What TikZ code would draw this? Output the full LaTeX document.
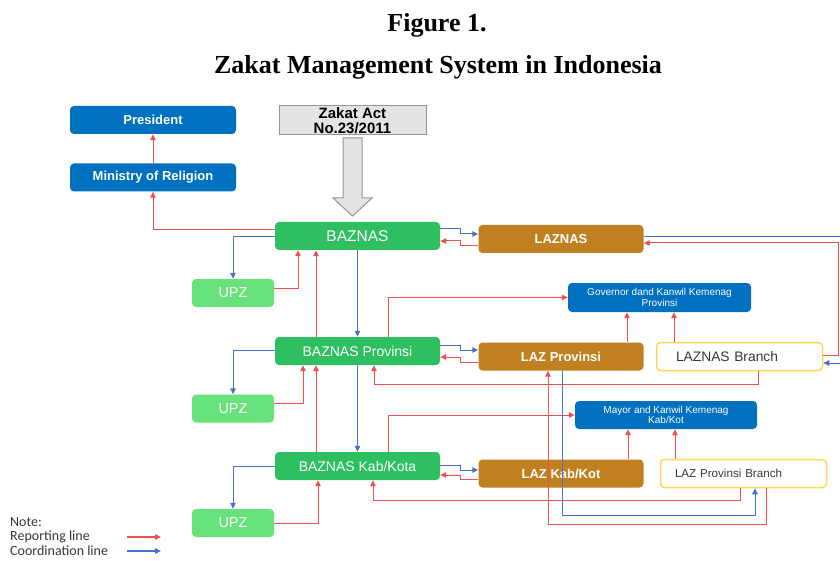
\documentclass[tikz,border=0pt]{standalone}
\usepackage{fontspec}
\setmainfont{Liberation Serif}
\setsansfont{Liberation Sans}
\newfontfamily\notefont{Carlito}
\usetikzlibrary{arrows.meta}
\definecolor{boxblue}{RGB}{0,112,192}
\definecolor{boxgreen}{RGB}{46,192,96}
\definecolor{upzgreen}{RGB}{104,226,122}
\definecolor{boxbrown}{RGB}{192,128,32}
\definecolor{boxyellow}{RGB}{255,214,90}
\definecolor{repred}{RGB}{238,80,80}
\definecolor{coordblue}{RGB}{72,114,200}
\definecolor{actgray}{RGB}{228,228,228}
\definecolor{edgegray}{RGB}{150,150,150}
\definecolor{txtgray}{RGB}{55,55,55}
\tikzset{
	box/.style={rounded corners=4pt, inner sep=0pt, align=center, minimum height=28pt},
	blubox/.style={box, fill=boxblue, text=white, font=\fontsize{13}{15}\selectfont\sffamily\bfseries},
	smallblu/.style={blubox, font=\fontsize{10}{10.5}\selectfont\sffamily},
	grnbox/.style={box, fill=boxgreen, text=white, minimum width=165pt, font=\fontsize{14}{16}\selectfont\sffamily},
	upzbox/.style={box, fill=upzgreen, text=white, minimum width=82pt, font=\fontsize{14.5}{16}\selectfont\sffamily},
	brnbox/.style={box, fill=boxbrown, text=white, minimum width=165pt, font=\fontsize{13}{15}\selectfont\sffamily\bfseries},
	ylwbox/.style={box, draw=boxyellow, line width=1.5pt, fill=white, text=txtgray, minimum width=166pt, align=left},
	rep/.style={draw=repred, line width=1pt, -{Triangle[length=6pt, width=5.5pt]}},
	coord/.style={draw=coordblue, line width=1pt, -{Triangle[length=6pt, width=5.5pt]}},
	notetxt/.style={anchor=west, inner sep=0pt, text=txtgray, font=\fontsize{14}{16}\selectfont\notefont}
}
\begin{document}
\begin{tikzpicture}[x=1pt, y=-1pt]
	\useasboundingbox (0,0) rectangle (840,561);
	\node[anchor=base, inner sep=0pt, font=\fontsize{26}{30}\selectfont\bfseries] (Fig) at (437,32) {Figure 1.};
	\node[anchor=base, inner sep=0pt, font=\fontsize{26}{30}\selectfont\bfseries] (Ttl) at (438,74) {Zakat Management System in Indonesia};

	\node[blubox, minimum width=166pt] (Pres) at (153,120) {President};
	\node[blubox, minimum width=166pt] (Min) at (153,177.5) {Ministry of Religion};
	\node[box, fill=actgray, draw=edgegray, line width=1pt, rounded corners=0pt, minimum width=147pt, minimum height=29pt, font=\fontsize{15}{14.5}\selectfont\sffamily\bfseries] (Act) at (352.5,120.5) {Zakat Act\\No.23/2011};
	\draw[fill=actgray, draw=edgegray, line width=1pt] (343,138) -- (362,138) -- (362,198) -- (372,198) -- (352.5,216) -- (333,198) -- (343,198) -- cycle;

	\node[grnbox, font=\fontsize{15.5}{17}\selectfont\sffamily] (Baz) at (357.5,236) {BAZNAS};
	\node[grnbox] (BazP) at (357.5,351) {BAZNAS Provinsi};
	\node[grnbox] (BazK) at (357.5,466) {BAZNAS Kab/Kota};
	\node[upzbox] (Upz1) at (233,293) {UPZ};
	\node[upzbox] (Upz2) at (233,408.5) {UPZ};
	\node[upzbox] (Upz3) at (233,523) {UPZ};
	\node[brnbox] (Lzn) at (561,239) {LAZNAS};
	\node[brnbox] (LazP) at (561,356.5) {LAZ Provinsi};
	\node[brnbox] (LazK) at (561,473.5) {LAZ Kab/Kot};
	\node[smallblu, minimum width=183pt, minimum height=29pt] (Gov) at (659.5,297.5) {Governor dand Kanwil Kemenag\\Provinsi};
	\node[smallblu, minimum width=182pt] (May) at (666,415) {Mayor and Kanwil Kemenag\\Kab/Kot};
	\node[ylwbox, text width=127pt, font=\fontsize{13.8}{16}\selectfont\sffamily] (LznB) at (739.5,356.5) {LAZNAS Branch};
	\node[ylwbox, text width=137pt, font=\fontsize{11.6}{14}\selectfont\sffamily] (LazPB) at (743.5,473.5) {LAZ Provinsi Branch};

	\draw[rep] (Min) -- (Pres);
	\draw[rep] (Baz.west |- 0,230) -| (Min.south);
	\draw[coord] (Baz.west |- 0,237) -| (Upz1.north);
	\draw[rep] (Upz1.east |- 0,288) -| (Baz.south -| 298,0);
	\draw[rep] (BazP.north -| 316,0) -- (Baz.south -| 316,0);
	\draw[coord] (Baz.south) -- (BazP.north);
	\draw[coord] (Baz.east |- 0,229) -| (460,234) -- (Lzn.west |- 0,234);
	\draw[rep] (Lzn.west |- 0,246) -| (460,241) -- (Baz.east |- 0,241);
	\draw[coord] (Lzn.east |- 0,237) -| (843,363) -- (LznB.east |- 0,363);
	\draw[rep] (LznB.east |- 0,355) -| (838.5,243) -- (Lzn.east |- 0,243);

	\draw[coord] (BazP.west |- 0,350) -| (Upz2.north);
	\draw[rep] (Upz2.east |- 0,403) -| (BazP.south -| 303,0);
	\draw[rep] (BazK.north -| 316,0) -- (BazP.south -| 316,0);
	\draw[coord] (BazP.south) -- (BazK.north);
	\draw[coord] (BazP.east |- 0,345) -| (460,350) -- (LazP.west |- 0,350);
	\draw[rep] (LazP.west |- 0,362) -| (460,357) -- (BazP.east |- 0,357);
	\draw[rep] (BazP.north -| 388,0) |- (Gov.west);
	\draw[rep] (LazP.north -| 627,0) -- (Gov.south -| 627,0);
	\draw[rep] (LznB.north -| 674,0) -- (Gov.south -| 674,0);
	\draw[rep] (LznB.south -| 758,0) |- (374,384.5) -- (BazP.south -| 374,0);

	\draw[coord] (BazK.west |- 0,466) -| (Upz3.north);
	\draw[rep] (Upz3.east |- 0,523) -| (BazK.south -| 318,0);
	\draw[coord] (BazK.east |- 0,465) -| (460,470) -- (LazK.west |- 0,470);
	\draw[rep] (LazK.west |- 0,479) -| (460,475) -- (BazK.east |- 0,475);
	\draw[rep] (BazK.north -| 388,0) |- (May.west);
	\draw[rep] (LazK.north -| 628,0) -- (May.south -| 628,0);
	\draw[rep] (LazPB.north -| 675,0) -- (May.south -| 675,0);
	\draw[rep] (LazPB.south -| 740,0) |- (373,500.5) -- (BazK.south -| 373,0);
	\draw[rep] (LazPB.south -| 766,0) |- (548,524) -- (LazP.south -| 548,0);
	\draw[coord] (LazP.south -| 562,0) |- (755,515) -- (LazPB.south -| 755,0);

	\node[notetxt] (Note) at (10,522) {Note:};
	\node[notetxt] (RepL) at (10,537) {Reporting line};
	\node[notetxt] (CooL) at (10,551) {Coordination line};
	\coordinate (R1) at (127,537);
	\coordinate (R2) at (161,537);
	\coordinate (C1) at (127,551);
	\coordinate (C2) at (161,551);
	\draw[rep, line width=1.3pt] (R1) -- (R2);
	\draw[coord, line width=1.3pt] (C1) -- (C2);
\end{tikzpicture}
\end{document}
